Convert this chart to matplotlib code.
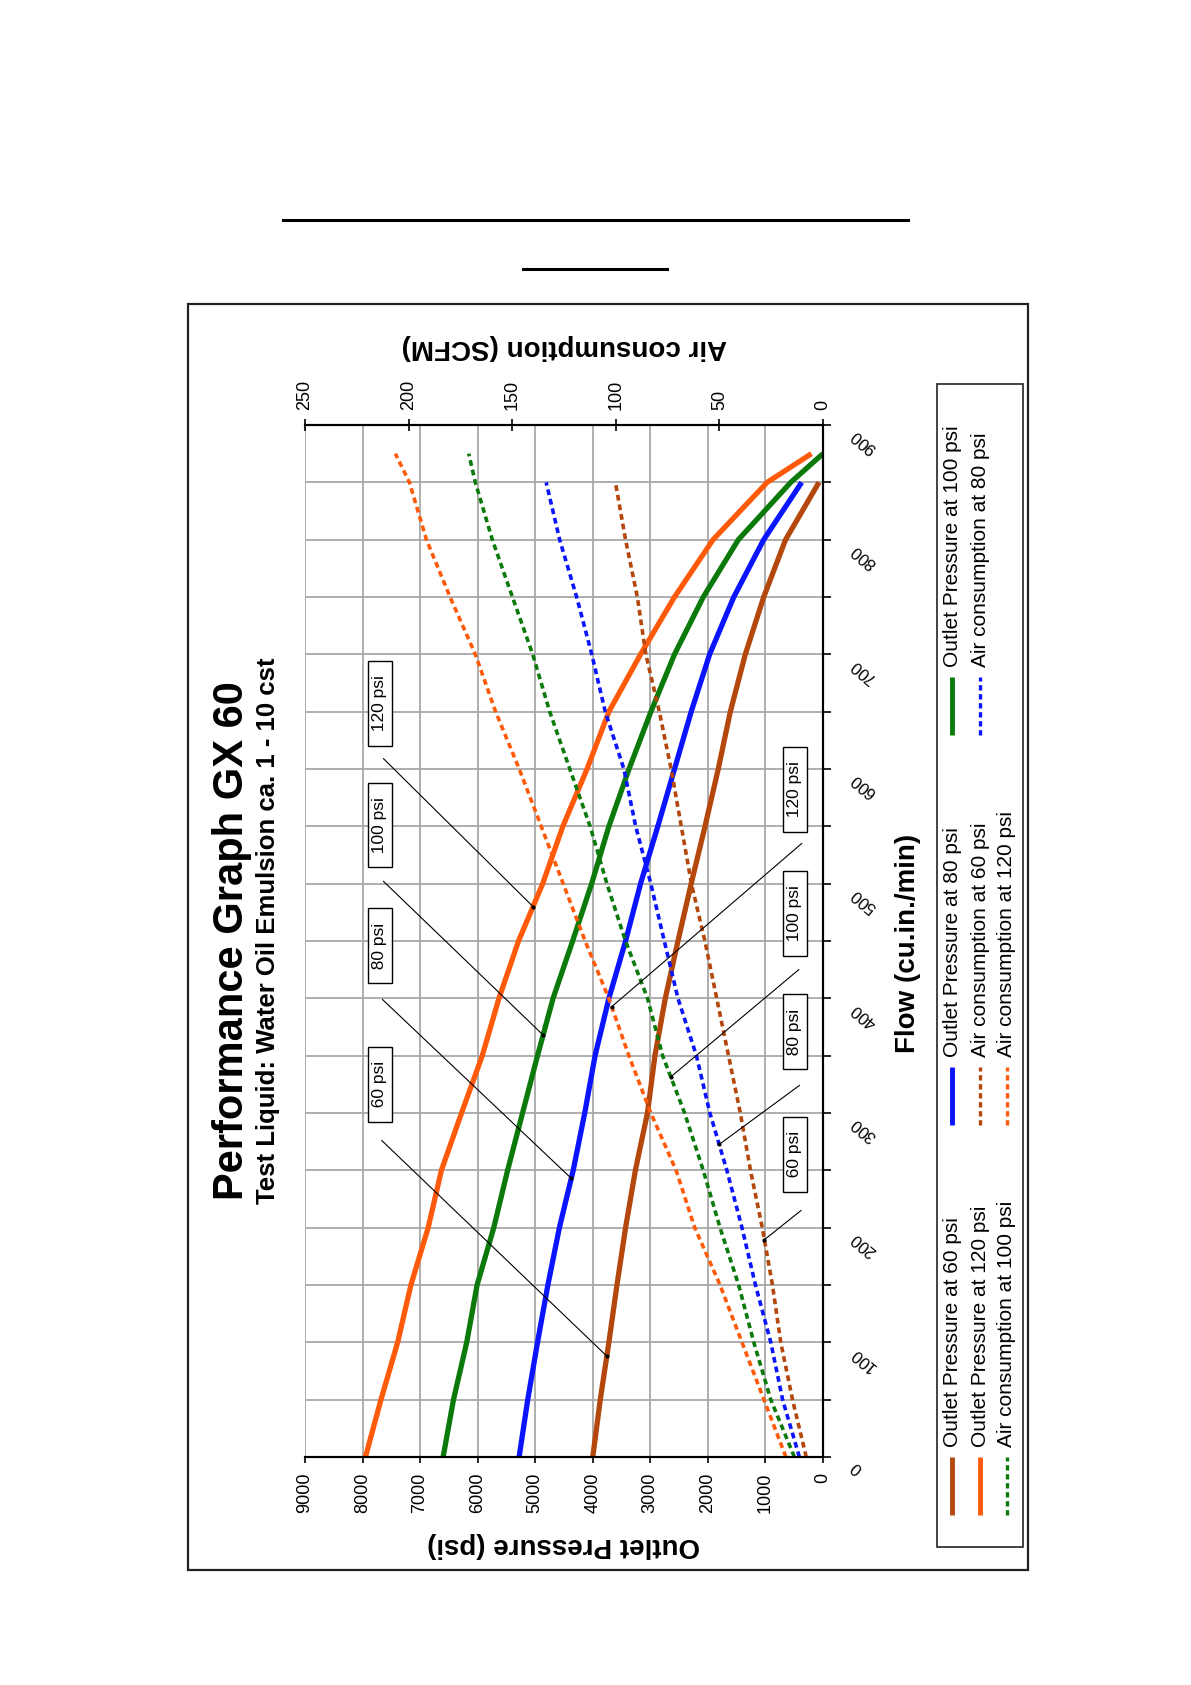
import numpy as np
import matplotlib.pyplot as plt
from matplotlib.lines import Line2D
from matplotlib.patches import Rectangle

plt.rcParams['font.family'] = ['Liberation Sans', 'DejaVu Sans']

W, H = 1191, 1685          # 出力画像サイズ [px]

# 流量 [cu.in./min]
flow = [0, 50, 100, 150, 200, 250, 300, 350, 400, 450, 500, 550, 600, 650, 700, 750, 800, 850]
flow_long = flow + [875]

# 出口圧力 [psi]
p60 = [4000, 3870, 3720, 3580, 3430, 3260, 3050, 2920, 2740, 2520, 2290, 2050, 1820, 1610, 1350, 1030, 650, 70]
p80 = [5280, 5130, 4960, 4780, 4580, 4340, 4140, 3960, 3720, 3430, 3170, 2870, 2580, 2290, 1970, 1550, 1030, 370]
p100 = [6600, 6420, 6190, 6010, 5720, 5480, 5220, 4960, 4690, 4350, 4020, 3720, 3370, 2990, 2580, 2080, 1470, 560, 0]
p120 = [7950, 7680, 7390, 7160, 6860, 6630, 6280, 5920, 5630, 5290, 4870, 4520, 4100, 3720, 3170, 2580, 1910, 970, 200]

# 空気消費量 [SCFM]
a60 = [8.1, 14.7, 20.4, 24.4, 29.3, 35.0, 39.9, 45.6, 51.3, 57.0, 63.5, 68.4, 73.3, 79.0, 85.5, 89.6, 95.3, 100.2]
a80 = [11.4, 19.5, 25.2, 32.6, 39.1, 46.4, 54.6, 61.1, 70.0, 76.6, 83.1, 90.4, 96.1, 105.1, 111.6, 118.9, 127.1, 133.6]
a100 = [13.8, 25.2, 33.4, 40.7, 49.7, 57.8, 66.8, 77.4, 84.7, 95.3, 104.3, 112.4, 122.2, 131.9, 140.1, 149.9, 159.6, 167.8, 171.0]
a120 = [17.9, 28.5, 39.1, 49.7, 61.9, 70.9, 83.1, 93.7, 103.4, 114.8, 125.4, 136.0, 146.6, 158.0, 167.8, 180.0, 191.4, 199.6, 206.4]

# 目盛り
pressure_ticks = [9000, 8000, 7000, 6000, 5000, 4000, 3000, 2000, 1000, 0]
air_ticks = [250, 200, 150, 100, 50, 0]
flow_ticks = [0, 100, 200, 300, 400, 500, 600, 700, 800, 900]

# 注記ラベル (psi)
psi_labels = ['60 psi', '80 psi', '100 psi', '120 psi']
left_box_flow = [325, 446, 551, 657]
left_start = [(7666, 276), (7654, 399), (7636, 502), (7636, 609)]
left_end_flow = [88, 243, 368, 480]
right_box_flow = [264, 371, 474, 582]
right_start = [(10.6, 215), (11.4, 324), (11.7, 425), (10.3, 535)]
right_end_flow = [189.5, 272.6, 331.5, 392.7]

BROWN = '#B4470C'
ORANGE = '#FF5A0A'
GREEN = '#0B7A0B'
BLUE = '#0A14FF'
DOT = (0, (1.6, 1.1))


def fx(x):
    return x / W


def fy(y):
    return 1 - y / H


fig = plt.figure(figsize=(W / 100, H / 100), dpi=100)

# グラフ本体 (90度回転した配置: 横軸=圧力, 縦軸=流量)
ax = fig.add_axes([fx(305), fy(1457), 518 / W, 1032 / H])
ax.set_xlim(9000, 0)
ax.set_ylim(0, 900)
ax.set_xticks(pressure_ticks)
ax.set_xticklabels([str(v) for v in pressure_ticks])
ax.set_yticks(np.arange(0, 901, 50))
ax.set_yticklabels([])
ax.yaxis.tick_right()
ax.grid(True, color='#A8A8A8', lw=1.3)
ax.set_axisbelow(True)
ax.tick_params(axis='x', direction='out', length=4.5, width=1.2, pad=7,
               labelsize=13, labelrotation=90)
ax.tick_params(axis='y', direction='out', length=6, width=1.2)
ax.spines['left'].set_visible(False)
for s in ['bottom', 'right', 'top']:
    ax.spines[s].set_linewidth(1.5)

pressure_lines = [(p60, flow, BROWN), (p80, flow, BLUE), (p100, flow_long, GREEN), (p120, flow_long, ORANGE)]
for p, f, c in pressure_lines:
    ax.plot(p, f, color=c, lw=3.8, solid_capstyle='butt')

# 流量目盛りラベル (逆さま・斜め)
for v in flow_ticks:
    ax.annotate(str(v), xy=(1, v), xycoords=('axes fraction', 'data'),
                xytext=(30, -8), textcoords='offset pixels', rotation=140,
                rotation_mode='anchor', ha='right', va='center', fontsize=12,
                annotation_clip=False)

# 空気消費量の軸 (上側)
ax2 = ax.twiny()
ax2.set_xlim(250, 0)
ax2.set_xticks(air_ticks)
ax2.set_xticklabels([str(v) for v in air_ticks])
ax2.tick_params(axis='x', direction='inout', length=9, width=1.2, pad=6,
                labelsize=13, labelrotation=90)
ax2.spines['left'].set_visible(False)
for s in ['bottom', 'right', 'top']:
    ax2.spines[s].set_linewidth(1.5)

air_lines = [(a60, flow, BROWN), (a80, flow, BLUE), (a100, flow_long, GREEN), (a120, flow_long, ORANGE)]
for a, f, c in air_lines:
    ax2.plot(a, f, color=c, lw=2.6, linestyle=DOT)

# 注記 (左: 圧力曲線, 右: 空気消費曲線)
for i, lbl in enumerate(psi_labels):
    p, f, c = pressure_lines[i]
    ex = np.interp(left_end_flow[i], f, p)
    ax.plot([left_start[i][0], ex], [left_start[i][1], left_end_flow[i]], color='black', lw=0.8)
    ax.plot(ex, left_end_flow[i], 'ko', ms=2)
    ax.text(7700, left_box_flow[i], '  ' + lbl + '  ', rotation=90, ha='center', va='center',
            fontsize=12.5, bbox=dict(boxstyle='square,pad=0.25', fc='white', ec='black', lw=1))

    a, f, c = air_lines[i]
    ex = np.interp(right_end_flow[i], f, a)
    ax2.plot([right_start[i][0], ex], [right_start[i][1], right_end_flow[i]], color='black', lw=0.8)
    ax2.plot(ex, right_end_flow[i], 'ko', ms=2)
    ax2.text(13.6, right_box_flow[i], '  ' + lbl + '  ', rotation=90, ha='center', va='center',
             fontsize=12.5, bbox=dict(boxstyle='square,pad=0.25', fc='white', ec='black', lw=1))

# 軸タイトル
fig.text(fx(564), fy(1545), 'Outlet Pressure (psi)', rotation=180, ha='center', va='center',
         fontsize=20, fontweight='bold')
fig.text(fx(564), fy(347), 'Air consumption (SCFM)', rotation=180, ha='center', va='center',
         fontsize=20, fontweight='bold')
fig.text(fx(908), fy(943), 'Flow (cu.in./min)', rotation=90, ha='center', va='center',
         fontsize=20, fontweight='bold')

# タイトル
fig.text(fx(232), fy(1200), 'Performance Graph GX 60', rotation=90, ha='center', va='bottom',
         fontsize=30, fontweight='bold')
fig.text(fx(268), fy(1204), 'Test Liquid: Water Oil Emulsion ca. 1 - 10 cst', rotation=90,
         ha='center', va='bottom', fontsize=18.5, fontweight='bold')

# 凡例
fig.add_artist(Rectangle((fx(937), fy(1547)), 86 / W, (1547 - 384) / H, fill=False,
                         ec='#222222', lw=1.2, transform=fig.transFigure))
legend_items = [
    ('Outlet Pressure at 60 psi', BROWN, '-', 952, 1515),
    ('Outlet Pressure at 80 psi', BLUE, '-', 952, 1125),
    ('Outlet Pressure at 100 psi', GREEN, '-', 952, 735),
    ('Outlet Pressure at 120 psi', ORANGE, '-', 980, 1515),
    ('Air consumption at 60 psi', BROWN, DOT, 980, 1125),
    ('Air consumption at 80 psi', BLUE, DOT, 980, 735),
    ('Air consumption at 100 psi', GREEN, DOT, 1007, 1515),
    ('Air consumption at 120 psi', ORANGE, DOT, 1007, 1125),
]
for lbl, c, ls, x, y in legend_items:
    lw = 3.5 if ls == '-' else 2.4
    fig.add_artist(Line2D([fx(x), fx(x)], [fy(y), fy(y - 58)], color=c, lw=lw, linestyle=ls,
                          solid_capstyle='butt'))
    fig.text(fx(x), fy(y - 68), lbl, rotation=90, ha='center', va='bottom', fontsize=15)

# 外枠と上部の下線
fig.add_artist(Rectangle((fx(188), fy(1570)), (1028 - 188) / W, (1570 - 304) / H, fill=False,
                         ec='#222222', lw=1.6, transform=fig.transFigure))
fig.add_artist(Line2D([fx(283), fx(908)], [fy(220), fy(220)], color='black', lw=2.2))
fig.add_artist(Line2D([fx(523), fx(667)], [fy(269), fy(269)], color='black', lw=2.2))

fig.savefig('out.png', dpi=100, facecolor='white')
